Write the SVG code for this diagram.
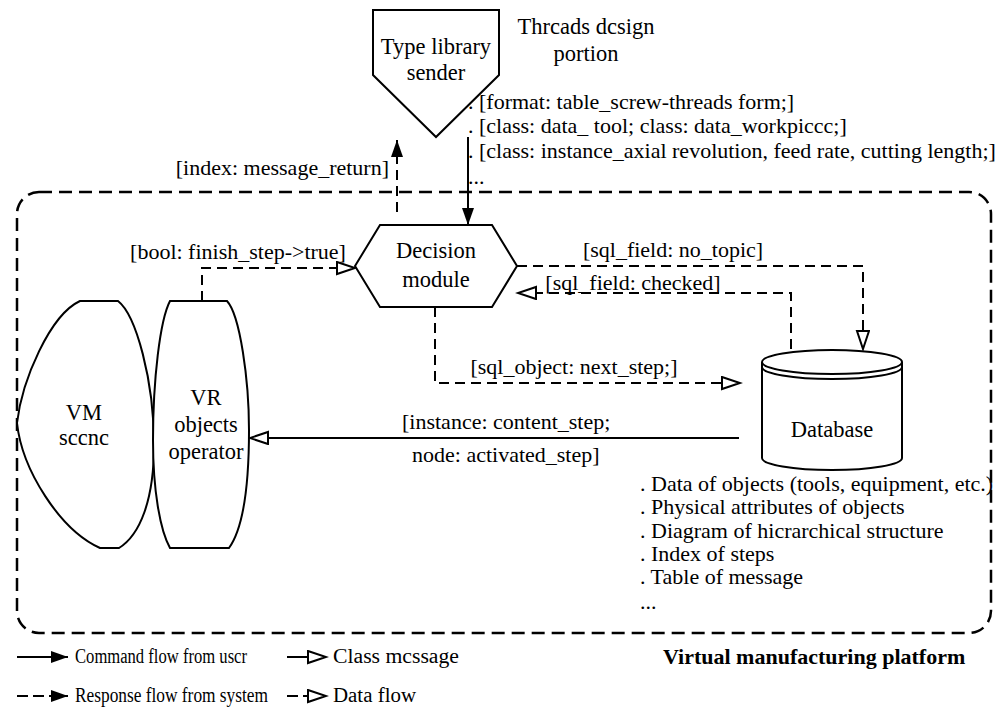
<svg xmlns="http://www.w3.org/2000/svg" width="1000" height="714" viewBox="0 0 1000 714">
  <style>
    text { font-family: "Liberation Serif", "Times New Roman", serif; fill: #000; }
    .node { font-size: 22.5px; text-anchor: middle; }
    .lbl { font-size: 22px; }
    .mid { text-anchor: middle; }
    .legend { font-size: 20.5px; }
    .title { font-size: 22px; font-weight: bold; }
    .shape { fill: #fff; stroke: #000; stroke-width: 2; }
    .solid { fill: none; stroke: #000; stroke-width: 2; }
    .dash { fill: none; stroke: #000; stroke-width: 2; stroke-dasharray: 10 6; }
    .frame { fill: none; stroke: #000; stroke-width: 2.5; stroke-dasharray: 13 7; }
  </style>
  <defs>
    <!-- filled head: command / response flows -->
    <marker id="filled" markerUnits="userSpaceOnUse" markerWidth="18" markerHeight="12" refX="17" refY="6" orient="auto">
      <path d="M0,0 L17,6 L0,12 Z" fill="#000" stroke="none"/>
    </marker>
    <!-- open head: class messages / data flows -->
    <marker id="open" markerUnits="userSpaceOnUse" markerWidth="22" markerHeight="16" refX="19" refY="7" orient="auto">
      <path d="M1,1 L19,7 L1,13 Z" fill="#fff" stroke="#000" stroke-width="2" stroke-dasharray="none"/>
    </marker>
  </defs>

  <!-- platform boundary -->
  <rect id="platform" class="frame" x="17" y="192" width="974" height="441" rx="22" ry="22"/>

  <!-- connectors -->
  <g id="connectors">
    <path class="dash" d="M397,212 L397,140" marker-end="url(#filled)"/>
    <path class="solid" d="M468,137 L468,225" marker-end="url(#filled)"/>
    <path class="dash" d="M202,301 L202,268 L355,268" marker-end="url(#open)"/>
    <path class="dash" d="M517,266 L863,266 L863,349" marker-end="url(#open)"/>
    <path class="dash" d="M791,349 L791,293 L518,293" marker-end="url(#open)"/>
    <path class="dash" d="M435,307 L435,383 L740,383" marker-end="url(#open)"/>
    <path class="solid" d="M739,438 L250,438" marker-end="url(#open)"/>
  </g>

  <!-- connector labels -->
  <g id="labels" class="lbl">
    <text x="389" y="175" text-anchor="end">[index: message_return]</text>
    <text x="238" y="259" class="mid">[bool: finish_step-&gt;true]</text>
    <text x="673" y="257" class="mid">[sql_field: no_topic]</text>
    <text x="633" y="290" class="mid">[sql_field: checked]</text>
    <text x="574" y="374" class="mid">[sql_object: next_step;]</text>
    <text x="402" y="429">[instance: content_step;</text>
    <text x="412" y="462">node: activated_step]</text>
  </g>

  <!-- type library sender -->
  <g id="sender">
    <path class="shape" d="M373,10 L499,10 L499,75 L436,137 L373,75 Z"/>
    <text class="node" x="436" y="54">Type library</text>
    <text class="node" x="436" y="80">sender</text>
  </g>

  <!-- threads design notes -->
  <g id="threads">
    <text class="node" x="586" y="34">Thrcads dcsign</text>
    <text class="node" x="586" y="61">portion</text>
    <g class="lbl">
      <text x="468" y="109">. [format: table_screw-threads form;]</text>
      <text x="468" y="133">. [class: data_ tool; class: data_workpiccc;]</text>
      <text x="468" y="158">. [class: instance_axial revolution, feed rate, cutting length;]</text>
      <text x="468" y="184">...</text>
    </g>
  </g>

  <!-- decision module -->
  <g id="decision">
    <path class="shape" d="M355,266 L380,225 L492,225 L517,266 L492,307 L380,307 Z"/>
    <text class="node" x="436" y="258">Decision</text>
    <text class="node" x="436" y="287">module</text>
  </g>

  <!-- VM scene -->
  <g id="vm-scene">
    <path class="shape" d="M80,301 L118,301 C136,315 154,380 154,445 C154,500 140,535 119,548 L100,548 C60,530 22,470 17,423 C22,380 50,315 80,301 Z"/>
    <text class="node" x="84" y="420">VM</text>
    <text class="node" x="84" y="445">sccnc</text>
  </g>

  <!-- VR objects operator -->
  <g id="vr-operator">
    <path class="shape" d="M170,301 L227,301 C240,315 249,380 249,430 C249,490 242,530 229,548 L170,548 C160,530 153,490 153,440 C153,380 160,320 170,301 Z"/>
    <text class="node" x="206" y="405">VR</text>
    <text class="node" x="206" y="432">objects</text>
    <text class="node" x="206" y="459">operator</text>
  </g>

  <!-- database -->
  <g id="database">
    <path class="shape" d="M762,362 L762,458 A70,12 0 0 0 902,458 L902,362"/>
    <ellipse class="shape" cx="832" cy="362" rx="70" ry="12"/>
    <path class="solid" d="M762,367 A70,12 0 0 0 902,367"/>
    <text class="node" x="832" y="437">Database</text>
    <g class="lbl">
      <text x="640" y="491">. Data of objects (tools, equipment, etc.)</text>
      <text x="640" y="514">. Physical attributes of objects</text>
      <text x="640" y="538">. Diagram of hicrarchical structure</text>
      <text x="640" y="561">. Index of steps</text>
      <text x="640" y="584">. Table of message</text>
      <text x="640" y="609">...</text>
    </g>
  </g>

  <!-- legend -->
  <g id="legend">
    <path class="solid" d="M17,657 L68,657" marker-end="url(#filled)"/>
    <text class="legend" x="75" y="663" textLength="172" lengthAdjust="spacingAndGlyphs">Command flow from uscr</text>
    <path class="solid" d="M287,657 L326,657" marker-end="url(#open)"/>
    <text class="legend" x="333" y="663" textLength="126" lengthAdjust="spacingAndGlyphs">Class mcssage</text>
    <path class="solid" d="M17,696 L68,696" stroke-dasharray="11 5" marker-end="url(#filled)"/>
    <text class="legend" x="75" y="702" textLength="193" lengthAdjust="spacingAndGlyphs">Response flow from system</text>
    <path class="solid" d="M287,696 L326,696" stroke-dasharray="11 5" marker-end="url(#open)"/>
    <text class="legend" x="333" y="702" textLength="83" lengthAdjust="spacingAndGlyphs">Data flow</text>
    <text class="title" x="663" y="664">Virtual manufacturing platform</text>
  </g>
</svg>
